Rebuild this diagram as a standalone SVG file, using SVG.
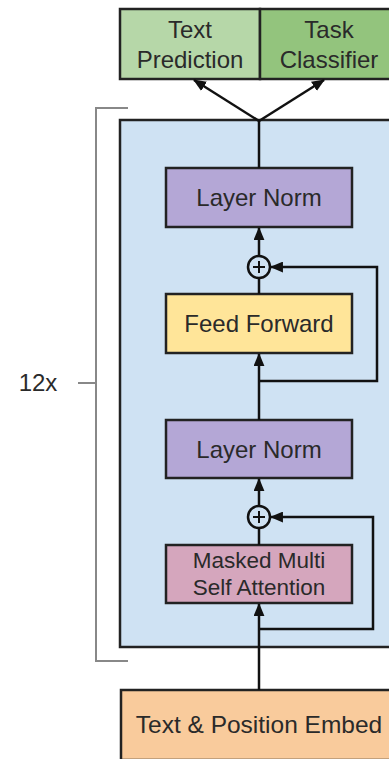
<svg xmlns="http://www.w3.org/2000/svg" width="389" height="759" viewBox="0 0 389 759">
<defs>
<style>
.box{stroke:#222;stroke-width:2.5}
.t{font-family:"Liberation Sans",Arial,sans-serif;font-size:24px;fill:#2a2a2a;text-anchor:middle}
.c{stroke:#111;stroke-width:2.5;fill:none}
.br{stroke:#888;stroke-width:2;fill:none}
</style>
<marker id="ah" viewBox="0 0 12 10" refX="11" refY="5" markerWidth="13" markerHeight="11" markerUnits="userSpaceOnUse" orient="auto">
<path d="M0,0 L12,5 L0,10 Z" fill="#111"/>
</marker>
</defs>
<rect width="389" height="759" fill="#fff"/>
<g id="bracket">
<path class="br" d="M128,108 H96 V661 H128 M78,383 H96"/>
<text class="t" x="38" y="391">12x</text>
</g>
<g id="block">
<rect class="box" x="120" y="120" width="290" height="527" fill="#cfe2f3"/>
</g>
<g id="text-prediction">
<rect class="box" x="120" y="9" width="140" height="70" fill="#b6d7a8"/>
<text class="t" x="190" y="38">Text</text>
<text class="t" x="190" y="68">Prediction</text>
</g>
<g id="task-classifier">
<rect class="box" x="260" y="9" width="140" height="70" fill="#93c47d"/>
<text class="t" x="329" y="38">Task</text>
<text class="t" x="329" y="68">Classifier</text>
</g>
<g id="layer-norm-1">
<rect class="box" x="166" y="168" width="186" height="59" fill="#b4a7d6"/>
<text class="t" x="259" y="206">Layer Norm</text>
</g>
<g id="add-1">
<circle class="c" cx="259" cy="267" r="11" fill="#cfe2f3"/>
<path class="c" d="M253,267 H265 M259,261 V273" style="stroke-width:2"/>
</g>
<g id="feed-forward">
<rect class="box" x="166" y="294" width="186" height="59" fill="#ffe599"/>
<text class="t" x="259" y="332">Feed Forward</text>
</g>
<g id="layer-norm-2">
<rect class="box" x="166" y="420" width="186" height="58" fill="#b4a7d6"/>
<text class="t" x="259" y="458">Layer Norm</text>
</g>
<g id="add-2">
<circle class="c" cx="259" cy="517" r="11" fill="#cfe2f3"/>
<path class="c" d="M253,517 H265 M259,511 V523" style="stroke-width:2"/>
</g>
<g id="masked-attention">
<rect class="box" x="166" y="545" width="186" height="58" fill="#d5a6bd"/>
<text class="t" x="259" y="568" style="font-size:22.5px">Masked Multi</text>
<text class="t" x="259" y="595" style="font-size:22.5px">Self Attention</text>
</g>
<g id="embed">
<rect class="box" x="121" y="690" width="276" height="70" fill="#f9cb9c"/>
<text class="t" x="259" y="733" style="font-size:24.5px">Text &amp; Position Embed</text>
</g>
<g id="connectors">
<path class="c" d="M259,690 V604" marker-end="url(#ah)"/>
<path class="c" d="M259,629 H373 V517 H271" marker-end="url(#ah)"/>
<path class="c" d="M259,545 V528"/>
<path class="c" d="M259,506 V479" marker-end="url(#ah)"/>
<path class="c" d="M259,420 V354" marker-end="url(#ah)"/>
<path class="c" d="M259,381 H377 V267 H271" marker-end="url(#ah)"/>
<path class="c" d="M259,294 V278"/>
<path class="c" d="M259,256 V228" marker-end="url(#ah)"/>
<path class="c" d="M259,168 V121"/>
<path class="c" d="M259,121 L194,80" marker-end="url(#ah)"/>
<path class="c" d="M259,121 L324,80" marker-end="url(#ah)"/>
</g>
</svg>
